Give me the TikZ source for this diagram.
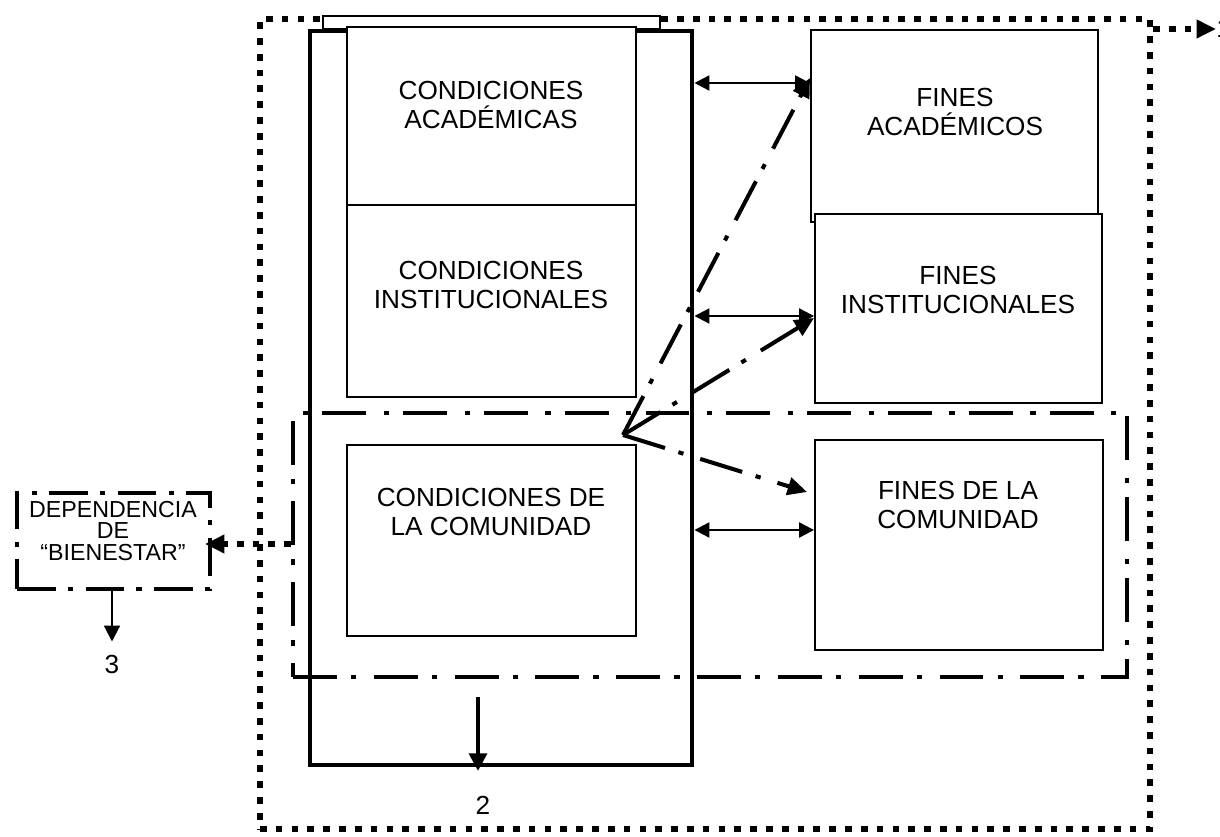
\documentclass[tikz,border=0pt]{standalone}
\usepackage{fontspec}
\setmainfont{Liberation Sans}
\usetikzlibrary{arrows.meta,fit}

\tikzset{
  caja/.style={draw, line width=1.1pt, fill=white, inner sep=0pt},
  columna/.style={draw, line width=2.8pt, inner sep=0pt},
  punteado/.style={draw, line width=3.6pt, dash pattern=on 3.8pt off 5.2pt, inner sep=0pt},
  rayapunto/.style={draw, line width=2.3pt, dash pattern=on 25pt off 8pt on 3pt off 10pt, inner sep=0pt},
  rayacorta/.style={draw, line width=2.3pt, dash pattern=on 22pt off 7pt on 3pt off 7pt, inner sep=0pt},
  texto/.style={align=center, font=\fontsize{14.9}{17}\selectfont},
  textochico/.style={align=center, inner sep=0pt, font=\fontsize{13.2}{12.3}\selectfont},
  flecha/.style={-{Triangle[length=11pt,width=10pt]}},
  doble/.style={line width=1.3pt, {Triangle[length=8.5pt,width=8.5pt]}-{Triangle[length=8.5pt,width=8.5pt]}}
}

\begin{document}
\begin{tikzpicture}[x=0.02cm,y=-0.02cm]
  \useasboundingbox (0,0) rectangle (1220,837);
  \node[punteado,fit={(260,19) (1150,829)}] (marco) {};
  \node[caja,fit={(323,16) (660,29)}] (tapa) {};
  \node[columna,fit={(310,31) (692,765)}] (col) {};
  \node[caja,fit={(347,27) (636,205)}] (ca) {};
  \node[caja,fit={(347,205) (636,397)}] (ci) {};
  \node[caja,fit={(347,445) (636,636)}] (cc) {};
  \node[caja,fit={(811,30) (1098,222)}] (fa) {};
  \node[caja,fit={(815,214) (1102,403)}] (fi) {};
  \node[caja,fit={(815,440) (1103,650)}] (fc) {};
  \node[rayapunto,fit={(293,413) (1127,677)}] (zona) {};
  \node[rayacorta,fill=white,fit={(17,493) (210,589)}] (dep) {};

  \node[texto] (tca) at (491,105) {CONDICIONES\\ACADÉMICAS};
  \node[texto] (tci) at (491,285) {CONDICIONES\\INSTITUCIONALES};
  \node[texto] (tcc) at (491,512) {CONDICIONES DE\\LA COMUNIDAD};
  \node[texto] (tfa) at (955,112) {FINES\\ACADÉMICOS};
  \node[texto] (tfi) at (958,290) {FINES\\INSTITUCIONALES};
  \node[texto] (tfc) at (958,505) {FINES DE LA\\COMUNIDAD};
  \node[textochico] (tdep) at (113,531) {DEPENDENCIA\\DE\\“BIENESTAR”};

  \node[texto, anchor=west, inner sep=0pt] (n1) at (1216,29) {1};
  \node[texto] (n2) at (483,805) {2};
  \node[texto] (n3) at (112,664) {3};
  \coordinate (c2) at (478,697);
  \coordinate (apex) at (623,435);

  \draw[doble] (col.east |- 0,83) -- (fa.west |- 0,83);
  \draw[doble] (col.east |- 0,316) -- (fi.west |- 0,316);
  \draw[doble] (col.east |- 0,530) -- (fc.west |- 0,530);

  \draw[rayapunto, flecha] (apex) -- (fa.west |- 0,78);
  \draw[rayapunto, flecha] (apex) -- (fi.west |- 0,318);
  \draw[rayapunto, flecha] (apex) -- ([xshift=-4pt]fc.west |- 0,492);

  \draw[punteado, flecha] (zona.west |- 0,544) -- ([xshift=-4pt]dep.east |- 0,544);
  \draw[punteado, flecha] (marco.north east |- n1) -- (n1.west);
  \draw[line width=1.2pt, -{Triangle[length=9pt,width=9pt]}] (dep.south -| n3) -- ([yshift=4pt]n3.north);
  \draw[line width=2.8pt, -{Triangle[length=10pt,width=10pt]}] (c2) -- ([yshift=-2pt]c2 |- col.south);
\end{tikzpicture}
\end{document}
